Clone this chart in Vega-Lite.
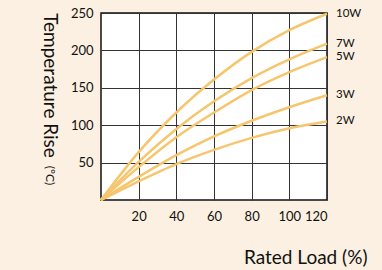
{
  "$schema": "https://vega.github.io/schema/vega-lite/v6.json",
  "width": 226,
  "height": 187,
  "autosize": "none",
  "padding": {"left": 101, "top": 13, "right": 55, "bottom": 70},
  "background": "#fbf0e1",
  "config": {
    "view": {"fill": "white", "stroke": "#111111", "strokeWidth": 1.5},
    "font": "Lato"
  },
  "data": {
    "values": [
      {"series": "10W", "load": 0, "rise": 0},
      {"series": "10W", "load": 20, "rise": 64},
      {"series": "10W", "load": 40, "rise": 117},
      {"series": "10W", "load": 60, "rise": 161},
      {"series": "10W", "load": 80, "rise": 198},
      {"series": "10W", "load": 100, "rise": 227},
      {"series": "10W", "load": 120, "rise": 249},
      {"series": "7W", "load": 0, "rise": 0},
      {"series": "7W", "load": 20, "rise": 51},
      {"series": "7W", "load": 40, "rise": 95},
      {"series": "7W", "load": 60, "rise": 132},
      {"series": "7W", "load": 80, "rise": 163},
      {"series": "7W", "load": 100, "rise": 188},
      {"series": "7W", "load": 120, "rise": 209},
      {"series": "5W", "load": 0, "rise": 0},
      {"series": "5W", "load": 20, "rise": 44},
      {"series": "5W", "load": 40, "rise": 84},
      {"series": "5W", "load": 60, "rise": 117},
      {"series": "5W", "load": 80, "rise": 147},
      {"series": "5W", "load": 100, "rise": 171},
      {"series": "5W", "load": 120, "rise": 191},
      {"series": "3W", "load": 0, "rise": 0},
      {"series": "3W", "load": 20, "rise": 31},
      {"series": "3W", "load": 40, "rise": 60},
      {"series": "3W", "load": 60, "rise": 85},
      {"series": "3W", "load": 80, "rise": 106},
      {"series": "3W", "load": 100, "rise": 124},
      {"series": "3W", "load": 120, "rise": 140},
      {"series": "2W", "load": 0, "rise": 0},
      {"series": "2W", "load": 20, "rise": 25},
      {"series": "2W", "load": 40, "rise": 48},
      {"series": "2W", "load": 60, "rise": 67},
      {"series": "2W", "load": 80, "rise": 83},
      {"series": "2W", "load": 100, "rise": 96},
      {"series": "2W", "load": 120, "rise": 105}
    ]
  },
  "resolve": {"axis": {"y": "independent"}},
  "layer": [
    {
      "mark": {"type": "line", "interpolate": "monotone", "strokeWidth": 2.5, "color": "#f6c66e", "clip": false},
      "encoding": {
        "x": {
          "field": "load", "type": "quantitative",
          "scale": {"domain": [0, 120], "nice": false},
          "axis": {
            "values": [20, 40, 60, 80, 100, 120],
            "grid": true, "gridColor": "#333333", "gridWidth": 1,
            "ticks": false, "domain": false,
            "labelFontSize": 13, "labelColor": "#111111", "labelPadding": 10,
            "title": "Rated Load (%)", "titleFontSize": 19, "titleFontWeight": "normal", "titleColor": "#111111",
            "titleX": 266, "titleY": 57, "titleAlign": "right", "titleBaseline": "middle", "titleAnchor": null
          }
        },
        "y": {
          "field": "rise", "type": "quantitative",
          "scale": {"domain": [0, 250], "nice": false},
          "axis": {
            "values": [50, 100, 150, 200, 250],
            "grid": true, "gridColor": "#333333", "gridWidth": 1,
            "ticks": false, "domain": false,
            "labelFontSize": 13, "labelColor": "#111111", "labelPadding": 8,
            "title": "Temperature Rise", "titleFontSize": 19, "titleFontWeight": "normal", "titleColor": "#111111",
            "titleAngle": 90, "titleX": -52, "titleY": 72, "titleAlign": "center", "titleBaseline": "middle"
          }
        },
        "detail": {"field": "series"}
      }
    },
    {
      "transform": [{"filter": "datum.load == 120"}],
      "mark": {"type": "text", "align": "left", "baseline": "middle", "dx": 9, "fontSize": 11.5, "color": "#111111"},
      "encoding": {
        "x": {"field": "load", "type": "quantitative"},
        "y": {
          "field": "rise", "type": "quantitative",
          "axis": {
            "orient": "left", "labels": false, "ticks": false, "domain": false, "grid": false,
            "title": "(°C)", "titleFontSize": 12, "titleFontWeight": "normal", "titleColor": "#111111",
            "titleAngle": 90, "titleX": -52, "titleY": 162, "titleAlign": "center", "titleBaseline": "middle"
          }
        },
        "text": {"field": "series"}
      }
    }
  ]
}
